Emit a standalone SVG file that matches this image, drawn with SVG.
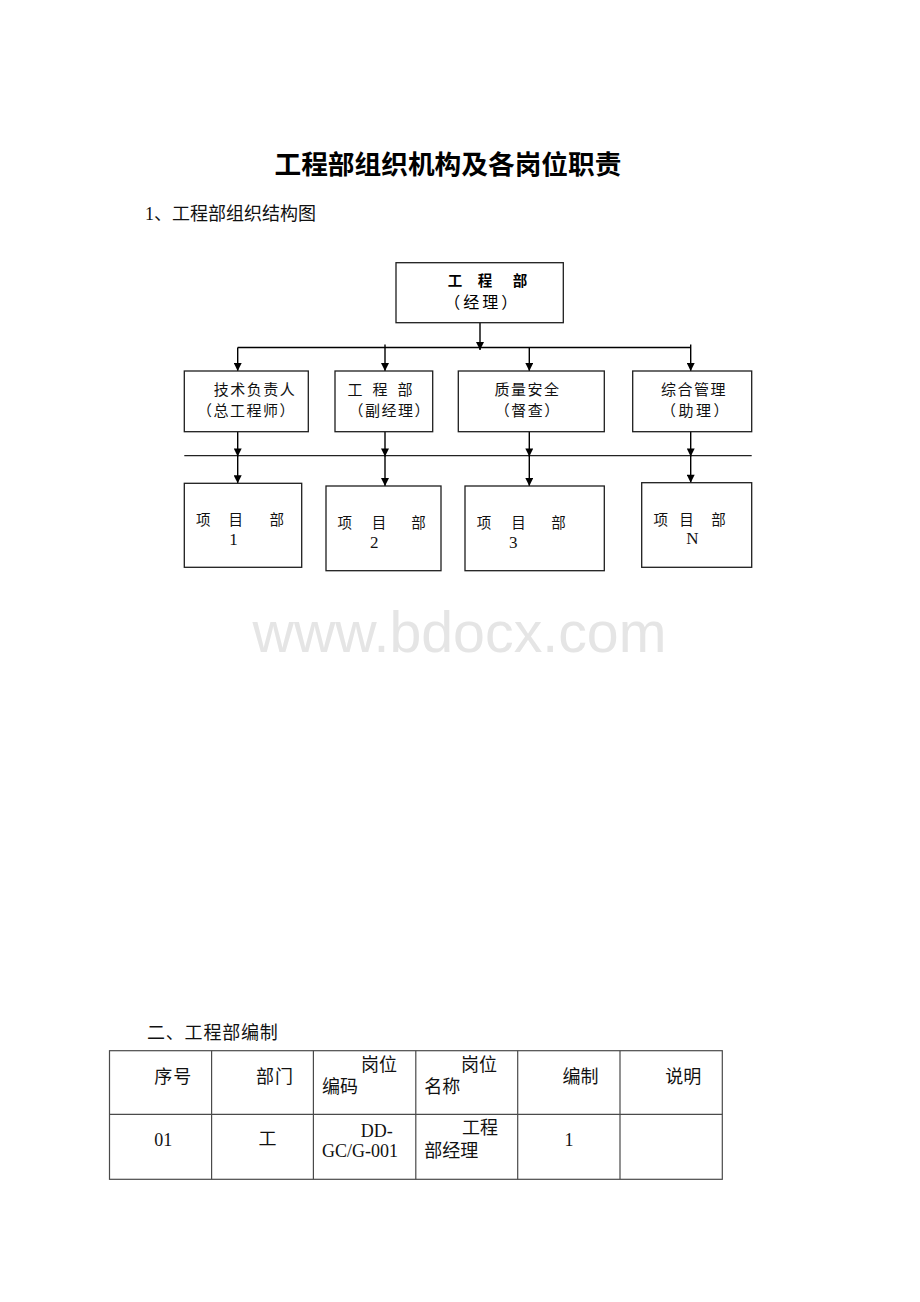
<svg xmlns="http://www.w3.org/2000/svg" width="920" height="1302" viewBox="0 0 920 1302">
<style>
.box{fill:#fff;stroke:#1e1e1e;stroke-width:1.3}
.t{font-family:'Liberation Serif','Noto Sans CJK SC',serif;fill:#111}
.h{font-family:'Noto Sans CJK SC','Liberation Sans',sans-serif;fill:#000}
.conn{stroke:#000;stroke-width:1.4;fill:none}
.bus{stroke:#222;stroke-width:1.3;fill:none}
.grid{stroke:#4a4a4a;stroke-width:1.2;fill:none}
.b15{font-size:15px;letter-spacing:1.5px}
.p{font-size:14.5px}
.d{font-size:17px}
.tb{font-size:18px}
</style>
<defs>
<marker id="arr" markerUnits="userSpaceOnUse" viewBox="0 0 10 10" markerWidth="9" markerHeight="8" refX="10" refY="5" orient="auto">
<path d="M0,0 L10,5 L0,10 z" fill="#000"/>
</marker>
</defs>
<rect width="920" height="1302" fill="#fff"/>

<g id="title">
<text class="h" x="274.5" y="174" font-size="26.7" font-weight="bold">工程部组织机构及各岗位职责</text>
</g>
<g id="heading1">
<text class="t" x="145" y="219.7" font-size="18">1、工程部组织结构图</text>
</g>

<g id="watermark">
<text x="252.5" y="651.7" font-family="'Liberation Sans',Arial,sans-serif" font-size="57.3" fill="#e5e5e5">www.bdocx.com</text>
</g>

<g id="connectors">
<path class="conn" d="M480,323 V350" marker-end="url(#arr)"/>
<path class="conn" d="M237.7,347.5 H691"/>
<path class="conn" d="M237.7,347.5 V371" marker-end="url(#arr)"/>
<path class="conn" d="M385,344.5 V371" marker-end="url(#arr)"/>
<path class="conn" d="M529.3,348 V371" marker-end="url(#arr)"/>
<path class="conn" d="M690.7,344.5 V371" marker-end="url(#arr)"/>
<path class="bus" d="M184.3,455.7 H751.7"/>
<path class="conn" d="M237.7,431.7 V456.5" marker-end="url(#arr)"/>
<path class="conn" d="M237.7,456 V483.3" marker-end="url(#arr)"/>
<path class="conn" d="M385,431.7 V456.5" marker-end="url(#arr)"/>
<path class="conn" d="M385,456 V486" marker-end="url(#arr)"/>
<path class="conn" d="M529.3,431.7 V456.5" marker-end="url(#arr)"/>
<path class="conn" d="M529.3,456 V486" marker-end="url(#arr)"/>
<path class="conn" d="M690.7,428 V456.5" marker-end="url(#arr)"/>
<path class="conn" d="M690.7,456 V482.7" marker-end="url(#arr)"/>
</g>

<g id="node-top">
<rect class="box" x="396" y="262.7" width="167.3" height="60"/>
<text class="h" y="285.7" font-size="14.5" font-weight="bold"><tspan x="447.7">工</tspan><tspan x="477.7">程</tspan><tspan x="512.7">部</tspan></text>
<text class="h" x="444.2" y="307.8" font-size="16" letter-spacing="3">（经理）</text>
</g>

<g id="node-tech">
<rect class="box" x="184.3" y="371" width="124" height="60.7"/>
<text class="t b15" x="213.7" y="395">技术负责人</text>
<text class="t b15" x="197" y="415.7">（总工程师）</text>
</g>

<g id="node-eng">
<rect class="box" x="335" y="371" width="97.7" height="60.7"/>
<text class="t" y="395" font-size="15"><tspan x="347.5">工</tspan><tspan x="372.5">程</tspan><tspan x="397.5">部</tspan></text>
<text class="t b15" x="348.5" y="415.7">（副经理）</text>
</g>

<g id="node-qa">
<rect class="box" x="458.3" y="371" width="146" height="60.7"/>
<text class="t b15" x="494.4" y="395">质量安全</text>
<text class="t b15" x="494.7" y="415.7">（督查）</text>
</g>

<g id="node-admin">
<rect class="box" x="632.7" y="371" width="119" height="60.7"/>
<text class="t b15" x="661" y="395">综合管理</text>
<text class="t" x="661" y="415.7" font-size="15" letter-spacing="2.5">（助理）</text>
</g>

<g id="node-p1">
<rect class="box" x="184.3" y="483.3" width="117.4" height="84"/>
<text class="t p" y="525"><tspan x="196">项</tspan><tspan x="228.6">目</tspan><tspan x="269.5">部</tspan></text>
<text class="t d" x="233.5" y="545" text-anchor="middle">1</text>
</g>

<g id="node-p2">
<rect class="box" x="326" y="486" width="115" height="84.7"/>
<text class="t p" y="528"><tspan x="337.5">项</tspan><tspan x="371.8">目</tspan><tspan x="411.2">部</tspan></text>
<text class="t d" x="374.3" y="547.5" text-anchor="middle">2</text>
</g>

<g id="node-p3">
<rect class="box" x="465" y="486" width="139.3" height="84.7"/>
<text class="t p" y="528"><tspan x="476.8">项</tspan><tspan x="511.2">目</tspan><tspan x="551.2">部</tspan></text>
<text class="t d" x="513.3" y="547.5" text-anchor="middle">3</text>
</g>

<g id="node-pN">
<rect class="box" x="641.7" y="482.7" width="110" height="84.6"/>
<text class="t p" y="525"><tspan x="653.5">项</tspan><tspan x="679.2">目</tspan><tspan x="711.2">部</tspan></text>
<text class="t d" x="692.5" y="544" text-anchor="middle">N</text>
</g>

<g id="heading2">
<text class="t" x="147" y="1038.7" font-size="18" letter-spacing="0.8">二、工程部编制</text>
</g>

<g id="table">
<rect class="grid" x="109.5" y="1050.7" width="612.8" height="128.6"/>
<path class="grid" d="M109.5,1114.3 H722.3 M211.6,1050.7 V1179.3 M313.4,1050.7 V1179.3 M415.8,1050.7 V1179.3 M517.7,1050.7 V1179.3 M620,1050.7 V1179.3"/>
<g class="t tb">
<text x="154.3" y="1083" letter-spacing="1">序号</text>
<text x="256" y="1083" letter-spacing="1">部门</text>
<text x="361" y="1070.5">岗位</text>
<text x="322" y="1092.7">编码</text>
<text x="461" y="1070.5">岗位</text>
<text x="424.3" y="1092.7">名称</text>
<text x="562.6" y="1083">编制</text>
<text x="665.3" y="1083">说明</text>
<text x="154.3" y="1146">01</text>
<text x="258.6" y="1145">工</text>
<text x="360.7" y="1136.5">DD-</text>
<text x="322" y="1156.7">GC/G-001</text>
<text x="462" y="1134">工程</text>
<text x="424.3" y="1157">部经理</text>
<text x="569" y="1146" text-anchor="middle">1</text>
</g>
</g>
</svg>
